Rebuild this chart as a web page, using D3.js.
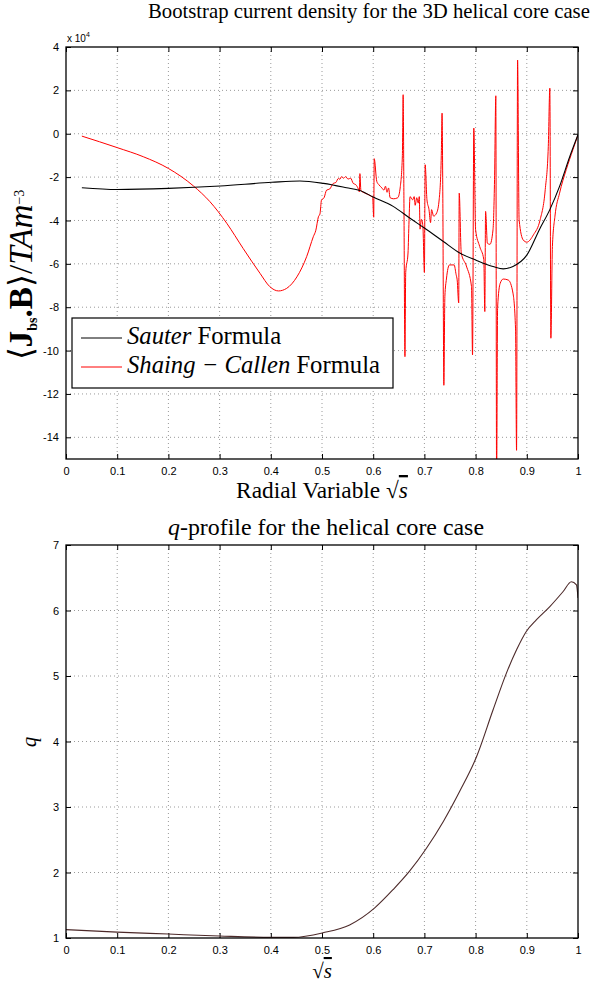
<!DOCTYPE html>
<html>
<head>
<meta charset="utf-8">
<script src="https://cdn.jsdelivr.net/npm/d3@7"></script>
<style>
  body { margin: 0; background: #fff; }
  svg { display: block; }
  .tick text { font-family: "Liberation Sans", Arial, sans-serif; font-size: 11px; fill: #000; }
  .grid line { stroke: #9a9a9a; stroke-dasharray: 1,3; stroke-width: 1; }
</style>
</head>
<body>
<div id="graphic"></div>
<script>
// bootstrap current (x 10^4)
const sauterS = [0.031,0.100,0.200,0.301,0.402,0.457,0.503,0.548,0.574,0.600,0.639,0.672,0.700,0.737,0.769,0.800,0.834,0.854,0.873,0.900,0.925,0.945,0.964,0.984,1.000];
const sauterJ = [-2.49,-2.57,-2.52,-2.41,-2.24,-2.18,-2.29,-2.49,-2.62,-2.92,-3.35,-3.90,-4.35,-4.97,-5.50,-5.82,-6.12,-6.23,-6.12,-5.60,-4.40,-3.50,-2.43,-1.05,-0.05];

const shaingS = [0.031,0.100,0.151,0.200,0.249,0.281,0.314,0.346,0.379,0.398,0.415,0.431,0.451,0.470,0.483,0.488,0.493,0.496,0.499,0.504,0.509,0.515,0.522,0.527,0.532,0.535,0.538,0.542,0.546,0.551,0.556,0.561,0.566,0.571,0.573,0.574,0.576,0.585,0.594,0.599,0.601,0.602,0.607,0.611,0.617,0.621,0.624,0.627,0.630,0.633,0.640,0.648,0.653,0.657,0.6585,0.660,0.662,0.6635,0.668,0.670,0.672,0.677,0.680,0.682,0.685,0.688,0.690,0.6915,0.694,0.697,0.700,0.7015,0.705,0.709,0.712,0.714,0.718,0.724,0.729,0.733,0.7345,0.736,0.738,0.740,0.743,0.749,0.758,0.762,0.764,0.767,0.768,0.772,0.782,0.792,0.794,0.7965,0.800,0.808,0.816,0.818,0.8195,0.823,0.828,0.834,0.837,0.8395,0.841,0.843,0.848,0.854,0.864,0.873,0.878,0.880,0.882,0.885,0.893,0.900,0.913,0.926,0.936,0.942,0.945,0.947,0.950,0.955,0.964,0.977,0.990,1.000];
const shaingJ = [-0.11,-0.64,-1.06,-1.60,-2.41,-3.13,-4.13,-5.29,-6.44,-7.05,-7.25,-7.13,-6.60,-5.67,-4.75,-4.45,-3.83,-3.70,-3.06,-2.95,-2.60,-2.55,-2.29,-2.25,-2.06,-2.10,-1.98,-2.05,-1.98,-2.09,-2.05,-2.29,-2.35,-2.55,-2.68,-1.84,-2.62,-2.75,-2.85,-2.95,-3.85,-1.15,-2.20,-2.35,-2.50,-2.60,-2.42,-2.70,-2.50,-2.95,-3.00,-2.95,-2.43,-1.00,1.80,-3.00,-10.28,-6.40,-5.50,-4.00,-2.90,-3.05,-2.90,-3.30,-2.95,-3.20,-2.90,-4.40,-3.95,-4.25,-6.40,-1.43,-3.05,-3.50,-4.10,-3.50,-3.80,-3.65,-3.00,-1.00,0.95,-3.00,-11.60,-7.50,-6.70,-6.05,-6.05,-6.50,-6.74,-7.80,-2.74,-5.50,-6.10,-7.05,-10.20,0.26,-4.43,-5.20,-5.80,-8.20,-3.58,-5.05,-5.10,-4.43,-2.12,1.75,-16.00,-8.00,-6.90,-6.70,-6.75,-7.35,-9.00,-14.60,3.40,-3.97,-4.90,-5.00,-4.66,-3.97,-2.58,-0.58,2.10,-9.43,-5.20,-3.80,-2.74,-1.66,-0.74,-0.05];

// q-profile
const qS = [0.000,0.100,0.200,0.300,0.400,0.444,0.502,0.554,0.603,0.639,0.671,0.704,0.737,0.769,0.802,0.834,0.860,0.880,0.899,0.919,0.945,0.971,0.987,0.997,1.000];
const qV = [1.128,1.090,1.060,1.030,1.010,1.010,1.080,1.200,1.460,1.740,2.020,2.370,2.780,3.240,3.770,4.480,5.040,5.400,5.680,5.860,6.060,6.290,6.440,6.390,6.190];

const xTicks = [0,0.1,0.2,0.3,0.4,0.5,0.6,0.7,0.8,0.9,1];
const jTicks = [4,2,0,-2,-4,-6,-8,-10,-12,-14];
const qTicks = [1,2,3,4,5,6,7];

const SERIF = "Liberation Serif";
const W = 592, H = 989;
const svg = d3.select("#graphic").append("svg").attr("width", W).attr("height", H);

// serif text node; every tspan gets the family too
function label(parent, x, y, size, anchor){
  return parent.append("text")
    .attr("x", x).attr("y", y)
    .attr("font-family", SERIF)
    .attr("font-size", size)
    .attr("fill", "#000")
    .attr("text-anchor", anchor || "start");
}
function span(t, txt, opts){
  const s = t.append("tspan").attr("font-family", SERIF).text(txt);
  opts = opts || {};
  if (opts.italic) s.attr("font-style", "italic");
  if (opts.bold) s.attr("font-weight", "bold");
  if (opts.size) s.attr("font-size", opts.size);
  if (opts.dy) s.attr("dy", opts.dy);
  if (opts.over) s.attr("text-decoration", "overline");
  return s;
}
// scale font size so the text spans the width seen in the figure
function fitWidth(sel, target){
  const len = sel.node().getComputedTextLength();
  const fs = parseFloat(sel.attr("font-size"));
  const nf = fs * target / len;
  sel.attr("font-size", nf);
  return nf;
}

function panel(opts){
  const x = d3.scaleLinear().domain([0, 1]).range([opts.left, opts.right]);
  const y = d3.scaleLinear().domain(opts.yDomain).range([opts.bottom, opts.top]);
  const g = svg.append("g");
  const w = opts.right - opts.left, h = opts.bottom - opts.top;

  // grid
  g.append("g").attr("class", "grid")
    .selectAll("line").data(xTicks.slice(1, -1)).enter().append("line")
    .attr("x1", d => x(d)).attr("x2", d => x(d))
    .attr("y1", opts.top).attr("y2", opts.bottom);
  g.append("g").attr("class", "grid")
    .selectAll("line").data(opts.yTicks.filter(d => d !== opts.yDomain[0] && d !== opts.yDomain[1])).enter().append("line")
    .attr("y1", d => y(d)).attr("y2", d => y(d))
    .attr("x1", opts.left).attr("x2", opts.right);

  // axes, ticks pointing inwards like matlab
  const fmt = d => String(d);
  g.append("g").attr("transform", `translate(0,${opts.bottom})`)
    .call(d3.axisBottom(x).tickValues(xTicks).tickSizeInner(-5).tickSizeOuter(0).tickPadding(8).tickFormat(fmt));
  g.append("g").attr("transform", `translate(0,${opts.top})`)
    .call(d3.axisTop(x).tickValues(xTicks).tickSizeInner(-5).tickSizeOuter(0).tickFormat(""));
  g.append("g").attr("transform", `translate(${opts.left},0)`)
    .call(d3.axisLeft(y).tickValues(opts.yTicks).tickSizeInner(-5).tickSizeOuter(0).tickPadding(7).tickFormat(fmt));
  g.append("g").attr("transform", `translate(${opts.right},0)`)
    .call(d3.axisRight(y).tickValues(opts.yTicks).tickSizeInner(-5).tickSizeOuter(0).tickFormat(""));
  g.selectAll(".domain").remove();
  g.selectAll(".tick line").attr("stroke", "#000");

  const clipId = "clip" + opts.top;
  svg.append("clipPath").attr("id", clipId).append("rect")
    .attr("x", opts.left).attr("y", opts.top).attr("width", w).attr("height", h);
  const plot = svg.append("g").attr("clip-path", `url(#${clipId})`);

  svg.append("rect")
    .attr("x", opts.left).attr("y", opts.top).attr("width", w).attr("height", h)
    .attr("fill", "none").attr("stroke", "#000").attr("stroke-width", 1.3);

  return { x, y, plot };
}

// ---------- top panel ----------
const jPanel = panel({ left: 66, right: 578, top: 47, bottom: 459, yDomain: [-15, 4], yTicks: jTicks });

const line = d3.line().x(d => jPanel.x(d[0])).y(d => jPanel.y(d[1])).curve(d3.curveMonotoneX);
jPanel.plot.append("path")
  .datum(d3.zip(shaingS, shaingJ))
  .attr("d", line).attr("fill", "none").attr("stroke", "#ff0000").attr("stroke-width", 1);
jPanel.plot.append("path")
  .datum(d3.zip(sauterS, sauterJ))
  .attr("d", line).attr("fill", "none").attr("stroke", "#000").attr("stroke-width", 1.1);

// x 10^4 multiplier
const mult = svg.append("text").attr("x", 67).attr("y", 42)
  .attr("font-family", "Liberation Sans, Arial, sans-serif").attr("font-size", 10);
mult.append("tspan").text("x 10");
mult.append("tspan").attr("dy", -5).attr("font-size", 7).text("4");

const t1 = label(svg, 148, 18, 18);
span(t1, "Bootstrap current density for the 3D helical core case");
fitWidth(t1, 442);

const xl1 = label(svg, 322, 498, 19, "middle");
span(xl1, "Radial Variable ");
span(xl1, "\u221A");
span(xl1, "s", { italic: true, over: true });
fitWidth(xl1, 172);

// y label
const yl1 = label(svg, 0, 0, 20, "middle").attr("transform", "translate(32,275) rotate(-90)");
span(yl1, "\u27E8");
span(yl1, "J", { bold: true });
span(yl1, "bs", { bold: true, size: 14, dy: 5 });
span(yl1, ".B", { bold: true, dy: -5 });
span(yl1, "\u27E9/");
span(yl1, "TAm", { italic: true });
span(yl1, "\u22123", { size: 14, dy: -8 });
fitWidth(yl1, 190);

// legend
const legendItems = [
  { name: "Sauter", color: "#000" },
  { name: "Shaing \u2212 Callen", color: "#ff0000" }
];
const lg = svg.append("g");
lg.append("rect").attr("x", 72).attr("y", 318).attr("width", 321).attr("height", 70)
  .attr("fill", "#fff").attr("stroke", "#000").attr("stroke-width", 1.2);
const legendTexts = legendItems.map((d, i) => {
  const yy = 338 + i * 29;
  lg.append("line").attr("x1", 81).attr("x2", 122).attr("y1", yy).attr("y2", yy)
    .attr("stroke", d.color).attr("stroke-width", 1);
  const t = label(lg, 127, yy + 6, 19);
  span(t, d.name, { italic: true });
  span(t, " Formula");
  return t;
});
const legendSize = fitWidth(legendTexts[1], 253);
legendTexts[0].attr("font-size", legendSize);

// ---------- bottom panel ----------
const qPanel = panel({ left: 66, right: 578, top: 545, bottom: 938, yDomain: [1, 7], yTicks: qTicks });
const qLine = d3.line().x(d => qPanel.x(d[0])).y(d => qPanel.y(d[1])).curve(d3.curveMonotoneX);
qPanel.plot.append("path")
  .datum(d3.zip(qS, qV))
  .attr("d", qLine).attr("fill", "none").attr("stroke", "#4d2a2a").attr("stroke-width", 1.1);

const t2 = label(svg, 326, 535, 18, "middle");
span(t2, "q", { italic: true });
span(t2, "-profile for the helical core case");
fitWidth(t2, 316);

const xl2 = label(svg, 322, 978, 21, "middle");
span(xl2, "\u221A");
span(xl2, "s", { italic: true, over: true });

const yl2 = label(svg, 0, 0, 21, "middle").attr("transform", "translate(36,742) rotate(-90)");
span(yl2, "q", { italic: true });
</script>
</body>
</html>
